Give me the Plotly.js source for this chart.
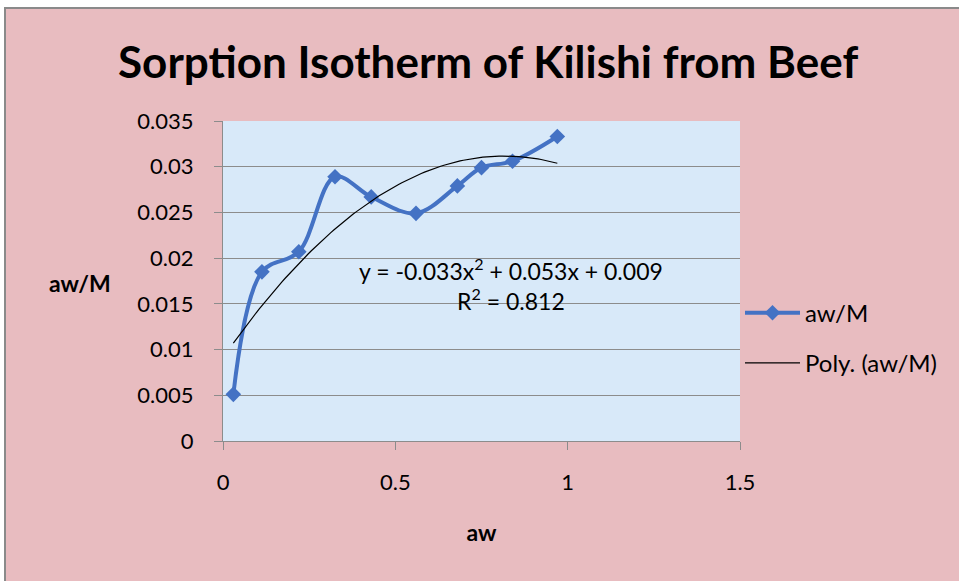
<!DOCTYPE html>
<html>
<head>
<meta charset="utf-8">
<script src="https://cdn.plot.ly/plotly-3.0.1.min.js"></script>
<style>
  html, body { margin: 0; padding: 0; background: #ffffff; width: 959px; height: 581px; overflow: hidden; }
  #bg { position: absolute; left: 4px; top: 7px; width: 970px; height: 590px;
        background: #e8bcc0; border-top: 2px solid #8a8a8a; border-left: 2px solid #8a8a8a; }
  #chart { position: absolute; left: 0; top: 0; width: 959px; height: 581px; }
</style>
</head>
<body>
<div id="bg"></div>
<div id="chart"></div>
<script>
// Data
const aw = [0.03, 0.113, 0.22, 0.325, 0.43, 0.56, 0.68, 0.75, 0.84, 0.97];
const awM = [0.0051, 0.0185, 0.0207, 0.0289, 0.0267, 0.0249, 0.0279, 0.0299, 0.0306, 0.0333];
const yTickVals = [0, 0.005, 0.01, 0.015, 0.02, 0.025, 0.03, 0.035];
const yTickText = ['0', '0.005', '0.01', '0.015', '0.02', '0.025', '0.03', '0.035'];
const xTickVals = [0, 0.5, 1, 1.5];
const xTickText = ['0', '0.5', '1', '1.5'];
const equationText = 'y = -0.033x<sup>2</sup> + 0.053x + 0.009<br>R<sup>2</sup> = 0.812';

// Least-squares quadratic trendline (as in Excel's "Poly." trendline)
function polyfit2(xs, ys) {
  let S = [0,0,0,0,0], T = [0,0,0];
  for (let i = 0; i < xs.length; i++) {
    let p = 1;
    for (let k = 0; k < 5; k++) { S[k] += p; p *= xs[i]; }
    p = 1;
    for (let k = 0; k < 3; k++) { T[k] += p * ys[i]; p *= xs[i]; }
  }
  const A = [[S[0],S[1],S[2],T[0]],[S[1],S[2],S[3],T[1]],[S[2],S[3],S[4],T[2]]];
  for (let i = 0; i < 3; i++) {
    for (let j = i + 1; j < 3; j++) {
      const f = A[j][i] / A[i][i];
      for (let k = i; k < 4; k++) A[j][k] -= f * A[i][k];
    }
  }
  const c = [0,0,0];
  for (let i = 2; i >= 0; i--) {
    let s = A[i][3];
    for (let k = i + 1; k < 3; k++) s -= A[i][k] * c[k];
    c[i] = s / A[i][i];
  }
  return c;
}
const coef = polyfit2(aw, awM);
const xmin = Math.min(...aw), xmax = Math.max(...aw);
const trendX = [], trendY = [];
for (let i = 0; i <= 100; i++) {
  const xv = xmin + (xmax - xmin) * i / 100;
  trendX.push(xv);
  trendY.push(coef[0] + coef[1] * xv + coef[2] * xv * xv);
}

const FONT = 'Lato, "Open Sans", sans-serif';

const traces = [
  {
    x: aw, y: awM, name: 'aw/M', type: 'scatter', mode: 'lines+markers',
    line: { color: '#4472C4', width: 4, shape: 'spline', smoothing: 1 },
    marker: { symbol: 'diamond', size: 12, color: '#4472C4' },
    legendgroup: 'a'
  },
  {
    x: trendX, y: trendY, name: 'Poly. (aw/M)', type: 'scatter', mode: 'lines',
    line: { color: '#000000', width: 1.2 },
    legendgroup: 'b'
  }
];

const layout = {
  width: 959, height: 581,
  paper_bgcolor: 'rgba(0,0,0,0)',
  plot_bgcolor: '#d8e9f9',
  margin: { l: 223, r: 219, t: 121, b: 140, pad: 0 },
  font: { family: FONT, size: 22, color: '#000000' },
  title: {
    text: '<b>Sorption Isotherm of Kilishi from Beef</b>',
    font: { family: FONT, size: 44, color: '#000000' },
    x: 0.509, xanchor: 'center', y: 0.893, yanchor: 'middle', yref: 'container'
  },
  xaxis: {
    range: [0, 1.5], tickvals: xTickVals, ticktext: xTickText,
    ticks: 'outside', ticklen: 8, tickcolor: '#8c8c8c', tickwidth: 1,
    showline: true, linecolor: '#8c8c8c', linewidth: 1,
    showgrid: false, zeroline: false, ticklabelstandoff: 14,
    tickfont: { family: FONT, size: 22 },
    title: { text: '<b>aw</b>', font: { family: FONT, size: 23 }, standoff: 30 }
  },
  yaxis: {
    range: [0, 0.035], tickvals: yTickVals, ticktext: yTickText,
    ticks: 'outside', ticklen: 8, tickcolor: '#8c8c8c', tickwidth: 1,
    showline: true, linecolor: '#8c8c8c', linewidth: 1,
    showgrid: true, gridcolor: '#8c8c8c', gridwidth: 1,
    zeroline: false, ticklabelstandoff: 16,
    tickfont: { family: FONT, size: 22 }
  },
  legend: {
    x: 1.0, xanchor: 'left', y: 0.47, yanchor: 'top',
    bgcolor: 'rgba(0,0,0,0)', borderwidth: 0,
    font: { family: FONT, size: 24, color: '#000000' },
    traceorder: 'grouped', tracegroupgap: 16, itemwidth: 55
  },
  annotations: [
    {
      text: '<b>aw/M</b>', xref: 'paper', yref: 'paper',
      x: (80 - 223) / 517, y: (441.3 - 283) / 320.6,
      xanchor: 'center', yanchor: 'middle', showarrow: false,
      font: { family: FONT, size: 23 }
    },
    {
      text: equationText, xref: 'paper', yref: 'paper',
      x: (511 - 223) / 517, y: (441.3 - 285) / 320.6,
      xanchor: 'center', yanchor: 'middle', showarrow: false, align: 'center',
      font: { family: FONT, size: 23 }
    }
  ],
  showlegend: true
};

Plotly.newPlot('chart', traces, layout, { displayModeBar: false, staticPlot: true });
</script>
</body>
</html>
